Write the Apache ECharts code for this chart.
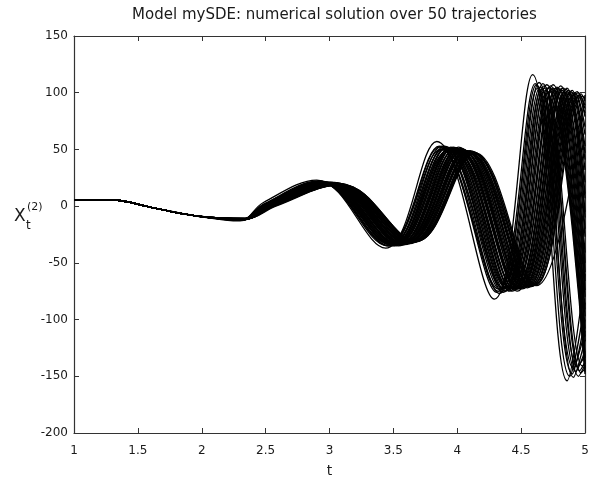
<!DOCTYPE html>
<html>
<head>
<meta charset="utf-8">
<script src="https://cdn.jsdelivr.net/npm/echarts@6/dist/echarts.min.js"></script>
<style>
  html, body { margin: 0; padding: 0; background: #fff; }
  #chart { width: 592px; height: 483px; }
</style>
</head>
<body>
<div id="chart"></div>
<script>
// Common beginning of every trajectory (all paths coincide until t ~ 2.2)
const startT = [1.0, 1.3, 1.62, 1.95];
const startY = [5.6, 5.4, -1.5, -8.5];

// Turning points of each of the 50 trajectories (t values), followed by the value at t = 5
const trajT = [
  [2.30,2.48,2.90,3.44,3.84,4.29,4.59,4.86,5.00],
  [2.30,2.49,2.91,3.45,3.86,4.31,4.61,4.88,5.00],
  [2.30,2.49,2.92,3.46,3.86,4.32,4.62,4.90,5.00],
  [2.31,2.49,2.92,3.46,3.87,4.32,4.63,4.91,5.00],
  [2.31,2.49,2.92,3.47,3.88,4.33,4.64,4.91,5.00],
  [2.31,2.50,2.93,3.48,3.89,4.34,4.65,4.93,5.00],
  [2.31,2.50,2.94,3.48,3.89,4.35,4.66,4.94,5.00],
  [2.31,2.50,2.94,3.49,3.90,4.36,4.67,4.95,5.00],
  [2.31,2.50,2.94,3.49,3.91,4.36,4.68,4.96,5.00],
  [2.31,2.50,2.95,3.50,3.91,4.37,4.68,4.97,5.00],
  [2.31,2.51,2.95,3.50,3.92,4.38,4.69,4.98,5.00],
  [2.31,2.51,2.96,3.51,3.92,4.38,4.70,5.00],
  [2.32,2.51,2.96,3.51,3.93,4.39,4.71,5.00],
  [2.32,2.51,2.96,3.52,3.94,4.40,4.72,5.00],
  [2.32,2.51,2.97,3.52,3.94,4.40,4.72,5.00],
  [2.32,2.52,2.97,3.53,3.95,4.41,4.73,5.00],
  [2.32,2.52,2.98,3.53,3.95,4.42,4.74,5.00],
  [2.32,2.52,2.98,3.54,3.96,4.42,4.75,5.00],
  [2.32,2.52,2.98,3.54,3.97,4.43,4.75,5.00],
  [2.32,2.52,2.99,3.55,3.97,4.44,4.76,5.00],
  [2.32,2.53,2.99,3.55,3.98,4.44,4.77,5.00],
  [2.32,2.53,3.00,3.56,3.98,4.45,4.78,5.00],
  [2.33,2.53,3.00,3.56,3.99,4.46,4.78,5.00],
  [2.33,2.53,3.00,3.57,4.00,4.46,4.79,5.00],
  [2.33,2.53,3.01,3.57,4.00,4.47,4.80,5.00],
  [2.33,2.54,3.01,3.57,4.01,4.47,4.81,5.00],
  [2.33,2.54,3.01,3.57,4.01,4.47,4.81,5.00],
  [2.33,2.54,3.02,3.58,4.01,4.48,4.82,5.00],
  [2.33,2.54,3.02,3.58,4.02,4.49,4.82,5.00],
  [2.33,2.54,3.02,3.59,4.03,4.49,4.83,5.00],
  [2.33,2.54,3.03,3.59,4.03,4.50,4.84,5.00],
  [2.33,2.55,3.03,3.60,4.04,4.50,4.85,5.00],
  [2.33,2.55,3.03,3.60,4.04,4.51,4.86,5.00],
  [2.33,2.55,3.04,3.60,4.04,4.51,4.86,5.00],
  [2.34,2.55,3.04,3.61,4.05,4.52,4.87,5.00],
  [2.34,2.55,3.04,3.61,4.06,4.53,4.87,5.00],
  [2.34,2.55,3.05,3.62,4.06,4.53,4.88,5.00],
  [2.34,2.56,3.05,3.62,4.07,4.54,4.89,5.00],
  [2.34,2.56,3.06,3.63,4.07,4.55,4.90,5.00],
  [2.34,2.56,3.06,3.63,4.08,4.55,4.90,5.00],
  [2.34,2.56,3.06,3.64,4.09,4.56,4.91,5.00],
  [2.34,2.56,3.07,3.64,4.09,4.57,4.92,5.00],
  [2.34,2.57,3.07,3.65,4.10,4.57,4.93,5.00],
  [2.34,2.57,3.08,3.65,4.10,4.58,4.94,5.00],
  [2.35,2.57,3.08,3.66,4.11,4.59,4.95,5.00],
  [2.35,2.57,3.08,3.66,4.12,4.59,4.95,5.00],
  [2.35,2.57,3.09,3.67,4.12,4.60,4.96,5.00],
  [2.35,2.58,3.09,3.67,4.13,4.61,4.97,5.00],
  [2.35,2.58,3.10,3.68,4.13,4.61,4.98,5.00],
  [2.35,2.58,3.10,3.68,4.14,4.62,5.00]
];

// X_t^(2) at the turning points above
const trajY = [
  [-13.0,3,23,-37,57,-82,116,-154,-60],
  [-12.4,2,22,-35,53,-76,108,-150,-85],
  [-12.2,1,21,-35,52,-75,107,-148,-100],
  [-11.8,2,21,-33,50,-73,104,-143,-110],
  [-12.5,0,22,-35,53,-77,109,-151,-118],
  [-12.0,1,21,-34,51,-74,105,-146,-128],
  [-11.6,2,20,-33,50,-72,103,-142,-132],
  [-12.4,1,22,-35,53,-76,108,-150,-140],
  [-11.9,0,21,-34,51,-73,104,-145,-138],
  [-12.1,2,21,-34,51,-75,106,-147,-143],
  [-11.5,1,20,-33,49,-72,102,-141,-138],
  [-12.2,0,21,-35,52,-75,107,-148],
  [-11.8,2,21,-33,50,-73,104,-143],
  [-12.0,1,21,-34,51,-74,105,-146],
  [-11.4,0,20,-32,49,-71,101,-139],
  [-12.1,2,21,-34,52,-75,106,-143],
  [-11.6,1,20,-33,50,-72,103,-137],
  [-11.9,0,21,-34,51,-73,104,-134],
  [-12.2,2,21,-35,52,-75,107,-132],
  [-11.5,1,20,-33,49,-72,102,-119],
  [-11.8,0,21,-33,50,-73,104,-115],
  [-12.0,2,21,-34,51,-74,105,-108],
  [-11.4,1,20,-32,49,-71,101,-97],
  [-11.9,0,21,-34,51,-73,104,-91],
  [-11.6,2,20,-33,50,-72,103,-80],
  [-12.1,1,21,-34,52,-75,106,-74],
  [-11.3,0,20,-32,48,-71,100,-66],
  [-11.8,2,21,-33,50,-73,104,-58],
  [-11.5,1,20,-33,49,-72,102,-50],
  [-11.9,0,21,-34,51,-73,104,-41],
  [-11.2,2,20,-32,48,-70,100,-27],
  [-11.6,1,20,-33,50,-72,103,-20],
  [-11.4,0,20,-32,49,-71,101,-10],
  [-11.8,2,21,-33,50,-73,104,-5],
  [-11.3,1,20,-32,48,-71,100,7],
  [-11.5,0,20,-33,49,-72,102,11],
  [-11.0,2,19,-31,47,-70,99,21],
  [-11.4,1,20,-32,49,-71,101,32],
  [-11.2,0,19,-32,48,-70,100,41],
  [-11.5,2,20,-33,49,-72,102,47],
  [-10.9,1,19,-31,47,-70,98,53],
  [-11.3,0,20,-32,48,-71,100,63],
  [-11.0,2,19,-31,47,-70,99,70],
  [-11.4,1,20,-32,49,-71,101,79],
  [-10.8,0,19,-31,46,-69,97,82],
  [-11.2,2,19,-32,48,-70,100,86],
  [-10.9,1,19,-31,47,-70,98,89],
  [-11.0,0,19,-31,47,-70,99,93],
  [-10.8,2,19,-31,46,-69,97,95],
  [-10.9,1,19,-31,47,-70,98]
];

// Axis ranges and tick spacing
const tRange = [1, 5];
const tStep = 0.5;
const xRange = [-200, 150];
const xStep = 50;

const titleText = 'Model mySDE: numerical solution over 50 trajectories';
const FONT = 'DejaVu Sans, Liberation Sans, Arial, sans-serif';
const AXIS_COLOR = '#333';
const TEXT_COLOR = '#1a1a1a';

const grid = { left: 74, right: 7, top: 36, bottom: 46 };

const series = trajT.map((ts, i) => ({
  name: 'trajectory ' + (i + 1),
  type: 'line',
  xAxisIndex: 0,
  yAxisIndex: 0,
  data: startT.map((t, j) => [t, startY[j]])
    .concat(ts.map((t, j) => [t, trajY[i][j]])),
  showSymbol: false,
  symbol: 'none',
  smooth: 0.38,
  clip: true,
  silent: true,
  animation: false,
  lineStyle: { color: '#000', width: 1.3 }
}));

function axisCommon(extra) {
  return Object.assign({
    type: 'value',
    axisLine: { show: true, onZero: false, lineStyle: { color: AXIS_COLOR, width: 1.2 } },
    axisTick: { show: true, inside: true, length: 5, lineStyle: { color: AXIS_COLOR, width: 1 } },
    splitLine: { show: false }
  }, extra);
}

const chart = echarts.init(document.getElementById('chart'), null, { renderer: 'canvas' });
chart.setOption({
  backgroundColor: '#fff',
  animation: false,
  title: {
    text: titleText,
    left: grid.left + (592 - grid.left - grid.right) / 2,
    textAlign: 'center',
    top: 3,
    textStyle: { fontFamily: FONT, fontSize: 15, fontWeight: 'normal', color: TEXT_COLOR }
  },
  grid: Object.assign({ containLabel: false }, grid),
  xAxis: [
    axisCommon({
      position: 'bottom',
      min: tRange[0], max: tRange[1], interval: tStep,
      name: 't',
      nameLocation: 'middle',
      nameGap: 31,
      nameTextStyle: { fontFamily: FONT, fontSize: 14, color: TEXT_COLOR },
      axisLabel: { show: true, margin: 12, fontFamily: FONT, fontSize: 12, color: TEXT_COLOR,
        formatter: v => String(v) }
    }),
    axisCommon({
      position: 'top',
      min: tRange[0], max: tRange[1], interval: tStep,
      axisLabel: { show: false }
    })
  ],
  yAxis: [
    axisCommon({
      position: 'left',
      min: xRange[0], max: xRange[1], interval: xStep,
      axisLabel: { show: true, margin: 6, fontFamily: FONT, fontSize: 12, color: TEXT_COLOR }
    }),
    axisCommon({
      position: 'right',
      min: xRange[0], max: xRange[1], interval: xStep,
      axisLabel: { show: false }
    })
  ],
  // Vertical-axis label X_t^(2) with stacked subscript and superscript
  graphic: [
    { type: 'text', left: 14, top: 208,
      style: { text: 'X', font: '17px ' + FONT, fill: TEXT_COLOR } },
    { type: 'text', left: 27, top: 202,
      style: { text: '(2)', font: '11px ' + FONT, fill: TEXT_COLOR } },
    { type: 'text', left: 26, top: 220,
      style: { text: 't', font: '12px ' + FONT, fill: TEXT_COLOR } }
  ],
  series: series
});
</script>
</body>
</html>
